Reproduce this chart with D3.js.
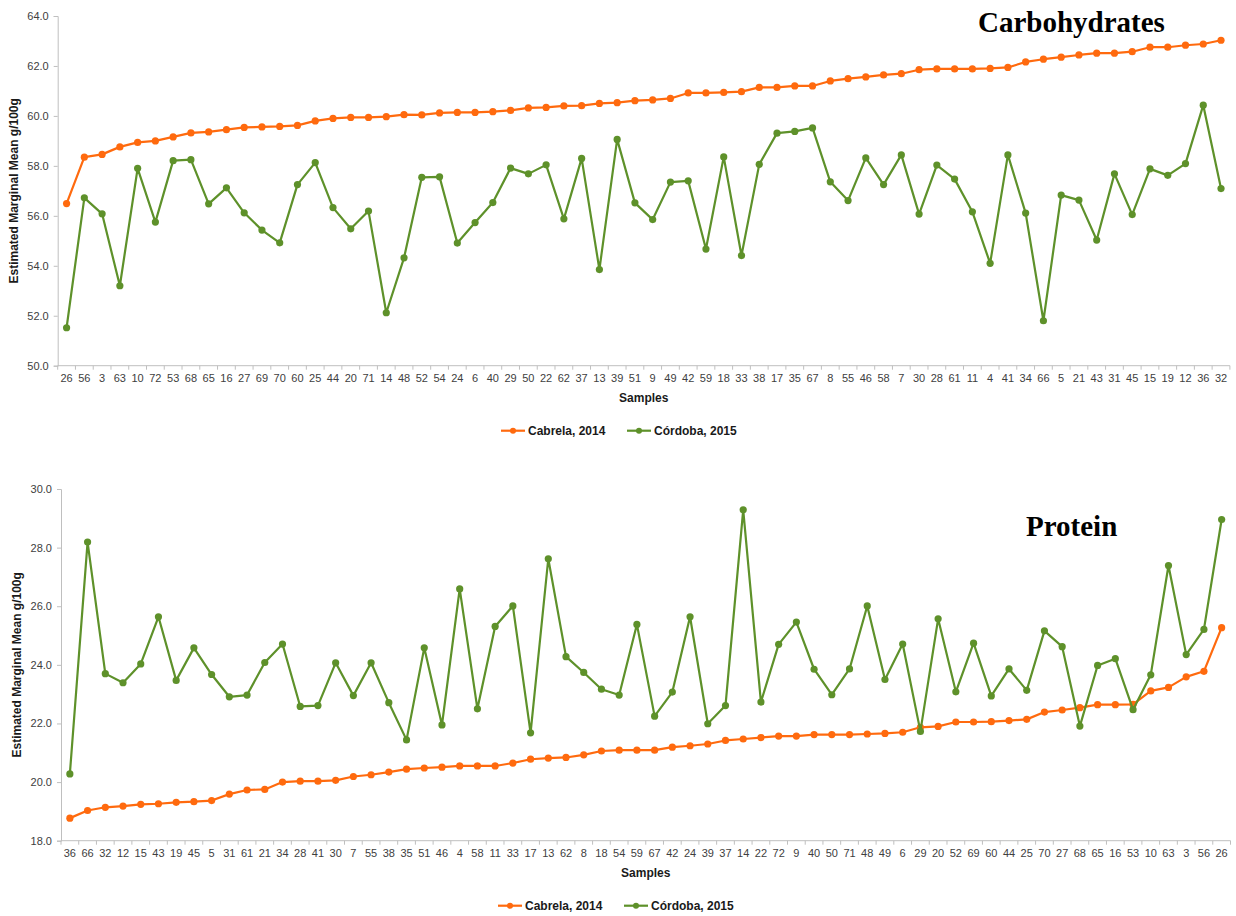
<!DOCTYPE html>
<html>
<head>
<meta charset="utf-8">
<script src="https://cdn.jsdelivr.net/npm/d3@7"></script>
<style>
  html, body { margin: 0; padding: 0; background: #fff; }
  svg { display: block; font-family: "Liberation Sans", Arial, sans-serif; }
</style>
</head>
<body>
<svg id="chart" width="1236" height="916"></svg>
<script>
// ---- Carbohydrates panel ----
const carbSamples = ["26","56","3","63","10","72","53","68","65","16","27","69","70","60","25","44","20","71","14","48",
  "52","54","24","6","40","29","50","22","62","37","13","39","51","9","49","42","59","18","33","38",
  "17","35","67","8","55","46","58","7","30","28","61","11","4","41","34","66","5","21","43","31",
  "45","15","19","12","36","32"];
const carbCabrela = [56.49,58.35,58.46,58.76,58.94,59.00,59.16,59.32,59.36,59.45,59.54,59.56,59.58,59.62,59.80,59.90,59.94,59.94,59.97,60.05,
  60.04,60.12,60.14,60.14,60.17,60.22,60.32,60.34,60.40,60.41,60.50,60.53,60.61,60.64,60.70,60.92,60.92,60.94,60.97,61.14,
  61.14,61.20,61.20,61.40,61.49,61.56,61.64,61.69,61.85,61.88,61.88,61.88,61.90,61.94,62.16,62.27,62.35,62.44,62.51,62.51,
  62.57,62.75,62.75,62.83,62.88,63.03];
const carbCordoba = [51.52,56.72,56.08,53.20,57.90,55.75,58.21,58.25,56.48,57.12,56.12,55.43,54.92,57.25,58.13,56.33,55.48,56.19,52.12,54.32,
  57.54,57.56,54.91,55.73,56.53,57.91,57.68,58.04,55.88,58.30,53.85,59.06,56.52,55.85,57.35,57.40,54.67,58.36,54.41,58.06,
  59.31,59.38,59.52,57.36,56.61,58.32,57.25,58.44,56.07,58.03,57.47,56.16,54.10,58.44,56.11,51.80,56.83,56.63,55.03,57.68,
  56.05,57.88,57.62,58.09,60.43,57.09];
const carbTicks = [50,52,54,56,58,60,62,64];

// ---- Protein panel ----
const protSamples = ["36","66","32","12","15","43","19","45","5","31","61","21","34","28","41","30","7","55","38","35",
  "51","46","4","58","11","33","17","13","62","8","18","54","59","67","42","24","39","37","14","22",
  "72","9","40","50","71","48","49","6","29","20","52","69","60","44","25","70","27","68","65","16",
  "53","10","63","3","56","26"];
const protCabrela = [18.77,19.03,19.14,19.18,19.24,19.26,19.31,19.33,19.37,19.59,19.73,19.75,20.00,20.03,20.03,20.06,20.19,20.25,20.34,20.44,
  20.48,20.51,20.55,20.55,20.55,20.65,20.78,20.82,20.84,20.93,21.06,21.09,21.09,21.09,21.19,21.24,21.30,21.42,21.47,21.52,
  21.57,21.57,21.62,21.62,21.62,21.64,21.66,21.70,21.87,21.90,22.05,22.05,22.06,22.10,22.14,22.39,22.46,22.54,22.64,22.64,
  22.65,23.11,23.23,23.59,23.78,25.27];
const protCordoba = [20.28,28.19,23.70,23.39,24.03,25.64,23.47,24.58,23.67,22.91,22.97,24.08,24.71,22.58,22.61,24.07,22.95,24.07,22.71,21.44,
  24.58,21.95,26.59,22.50,25.31,26.01,21.68,27.62,24.28,23.74,23.17,22.97,25.38,22.25,23.07,25.64,21.99,22.61,29.29,22.73,
  24.70,25.46,23.85,22.98,23.86,26.01,23.50,24.71,21.73,25.57,23.08,24.74,22.94,23.86,23.13,25.16,24.62,21.91,23.98,24.21,
  22.47,23.66,27.39,24.35,25.21,28.96];
const protTicks = [18,20,22,24,26,28,30];

const seriesNames = ["Cabrela, 2014", "Córdoba, 2015"];
const seriesColors = ["#ff6a0e", "#5e912a"];

const svg = d3.select("#chart");
const axisGrey = "#bfbfbf";
const labelGrey = "#404040";

function drawPanel(cfg) {
  const g = svg.append("g");
  const x = d3.scaleBand().domain(cfg.samples).range([cfg.left, cfg.right]);
  const y = d3.scaleLinear().domain([cfg.ticks[0], cfg.ticks[cfg.ticks.length - 1]]).range([cfg.bottom, cfg.top]);

  // y axis
  const yAxis = g.append("g")
    .attr("transform", `translate(${cfg.left},0)`)
    .call(d3.axisLeft(y).tickValues(cfg.ticks).tickFormat(d3.format(".1f")).tickSize(4).tickPadding(5));
  yAxis.select(".domain").attr("stroke", axisGrey);
  yAxis.selectAll(".tick line").attr("stroke", axisGrey);
  yAxis.selectAll(".tick text").attr("fill", labelGrey).style("font-size", "11px");

  // x axis: ticks sit on the category boundaries, labels at the centres
  const xAxis = g.append("g").attr("transform", `translate(0,${cfg.bottom})`);
  xAxis.append("line").attr("x1", cfg.left).attr("x2", cfg.right).attr("stroke", axisGrey);
  const bounds = d3.range(cfg.samples.length + 1).map(i => cfg.left + i * x.step());
  xAxis.selectAll("line.tick").data(bounds).join("line")
    .attr("class", "tick")
    .attr("x1", d => d).attr("x2", d => d).attr("y1", 0).attr("y2", 4)
    .attr("stroke", axisGrey);
  xAxis.selectAll("text").data(cfg.samples).join("text")
    .attr("x", d => x(d) + x.bandwidth() / 2)
    .attr("y", 16)
    .attr("text-anchor", "middle")
    .attr("fill", labelGrey)
    .style("font-size", "11px")
    .text(d => d);

  // axis titles
  g.append("text")
    .attr("x", (cfg.left + cfg.right) / 2).attr("y", cfg.bottom + 36)
    .attr("text-anchor", "middle").attr("font-weight", "bold").style("font-size", "12px")
    .attr("fill", "#1a1a1a")
    .text("Samples");
  g.append("text")
    .attr("transform", `translate(${cfg.left - 40},${(cfg.top + cfg.bottom) / 2}) rotate(-90)`)
    .attr("text-anchor", "middle").attr("font-weight", "bold").style("font-size", "12px")
    .attr("fill", "#1a1a1a")
    .text("Estimated Marginal Mean g/100g");

  // series
  const line = d3.line().x((d, i) => x(cfg.samples[i]) + x.bandwidth() / 2).y(d => y(d));
  cfg.series.forEach((vals, s) => {
    g.append("path").datum(vals)
      .attr("d", line).attr("fill", "none")
      .attr("stroke", seriesColors[s]).attr("stroke-width", 2.2).attr("stroke-linejoin", "round");
    g.selectAll(null).data(vals).join("circle")
      .attr("cx", (d, i) => x(cfg.samples[i]) + x.bandwidth() / 2)
      .attr("cy", d => y(d))
      .attr("r", 3.6)
      .attr("fill", seriesColors[s]);
  });

  // legend
  const lg = g.append("g").attr("transform", `translate(0,${cfg.bottom + 65})`);
  const legendX = [cfg.legendX, cfg.legendX + 126];
  seriesNames.forEach((name, s) => {
    const lx = legendX[s];
    lg.append("line").attr("x1", lx).attr("x2", lx + 24).attr("y1", 0).attr("y2", 0)
      .attr("stroke", seriesColors[s]).attr("stroke-width", 2.2);
    lg.append("circle").attr("cx", lx + 12).attr("cy", 0).attr("r", 3).attr("fill", seriesColors[s]);
    lg.append("text").attr("x", lx + 27).attr("y", 4.5)
      .attr("font-weight", "bold").style("font-size", "12px").attr("fill", "#1a1a1a")
      .text(name);
  });

  // panel title
  g.append("text")
    .attr("x", cfg.titleX).attr("y", cfg.titleY)
    .attr("font-family", "'Liberation Serif', 'Times New Roman', serif")
    .attr("font-weight", "bold").style("font-size", "29px").attr("fill", "#000")
    .text(cfg.title);
}

drawPanel({
  samples: carbSamples, series: [carbCabrela, carbCordoba], ticks: carbTicks,
  left: 57.7, right: 1229.9, top: 16, bottom: 365.7,
  legendX: 501, title: "Carbohydrates", titleX: 978, titleY: 32
});

drawPanel({
  samples: protSamples, series: [protCabrela, protCordoba], ticks: protTicks,
  left: 61, right: 1230.5, top: 489, bottom: 840.7,
  legendX: 498, title: "Protein", titleX: 1026, titleY: 536
});
</script>
</body>
</html>
